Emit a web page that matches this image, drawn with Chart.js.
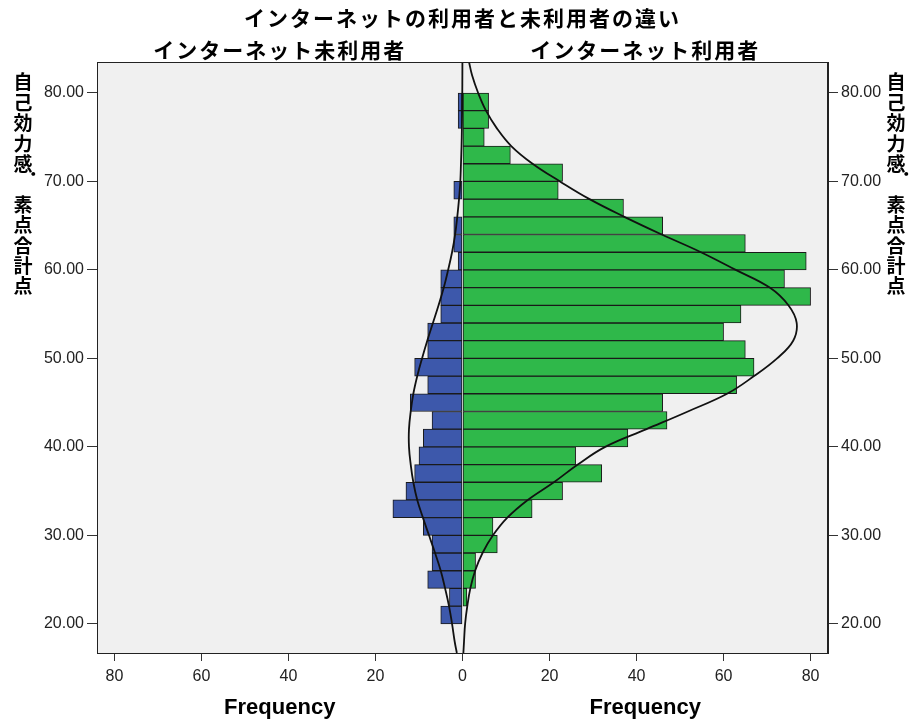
<!DOCTYPE html>
<html>
<head>
<meta charset="utf-8">
<script src="https://cdn.jsdelivr.net/npm/chart.js@4.4.1/dist/chart.umd.min.js"></script>
<style>
  html, body { margin: 0; padding: 0; background: #fff; }
</style>
</head>
<body>
<canvas id="chart" width="912" height="722"></canvas>
<script>
// score bins (2-point width), midpoints from bottom to top
const binMids = [21, 23, 25, 27, 29, 31, 33, 35, 37, 39, 41, 43, 45, 47, 49,
                 51, 53, 55, 57, 59, 61, 63, 65, 67, 69, 71, 73, 75, 77, 79];
// インターネット未利用者 (left side)
const nonUsers = [5, 3, 8, 7, 7, 9, 16, 13, 11, 10, 9, 7, 12, 8, 11,
                  8, 8, 5, 5, 5, 1, 2, 2, 0, 2, 0, 0, 0, 1, 1];
// インターネット利用者 (right side)
const users = [0, 1, 3, 3, 8, 7, 16, 23, 32, 26, 38, 47, 46, 63, 67,
               65, 60, 64, 80, 74, 79, 65, 46, 37, 22, 23, 11, 5, 6, 6];

// normal curves
const curveScores = [16.7, 18, 20, 22, 24, 26, 28, 30, 32, 34, 36, 38, 40, 42, 44, 46, 48,
                     50, 52, 54, 56, 58, 60, 62, 64, 66, 68, 70, 72, 74, 76, 78, 80, 82, 83.5];
const usersCurve = [0.2, 0.35, 0.6, 1.1, 1.8, 2.9, 4.6, 7.0, 10.3, 15.0, 21.0, 26.5, 32.8, 42.3, 51.8, 60.8, 67.0,
                    72.3, 76.0, 76.8, 74.9, 70.6, 62.8, 54.8, 45.8, 37.2, 29.2, 22.4, 16.1, 11.2, 7.9, 5.4, 3.6, 2.2, 1.5];
const nonUsersCurve = [1.3, 1.8, 2.4, 3.1, 4.0, 5.0, 6.3, 7.7, 9.1, 10.4, 11.3, 11.9, 12.3, 12.3, 11.9, 11.3, 10.4,
                       9.3, 8.1, 6.8, 5.5, 4.3, 3.3, 2.4, 1.7, 1.2, 0.8, 0.5, 0.35, 0.22, 0.14, 0.09, 0.05, 0.03, 0.02];

const scoreTicks = [20, 30, 40, 50, 60, 70, 80];
const freqTicks = [-80, -60, -40, -20, 0, 20, 40, 60, 80];

const chartTitle = 'インターネットの利用者と未利用者の違い';
const leftTitle = 'インターネット未利用者';
const rightTitle = 'インターネット利用者';
const yTitle = '自己効力感．素点合計点';
const xTitle = 'Frequency';

const jpFont = '"Noto Sans CJK JP", "Noto Sans", sans-serif';
const numFont = '"Liberation Sans", Arial, sans-serif';

function drawVertical(ctx, text, cx, top, pitch) {
    let i = 0;
    for (const ch of text) {
        const cellTop = top + i * pitch;
        if (ch === '．') {
            ctx.textAlign = 'left';
            ctx.textBaseline = 'alphabetic';
            ctx.fillText(ch, cx + 5, cellTop + 2);
        } else {
            ctx.textAlign = 'center';
            ctx.textBaseline = 'middle';
            ctx.fillText(ch, cx, cellTop + pitch / 2);
        }
        i++;
    }
}

const panelPlugin = {
    id: 'panels',
    beforeDraw(chart) {
        const { ctx, chartArea: a } = chart;
        ctx.save();
        ctx.fillStyle = '#ffffff';
        ctx.fillRect(0, 0, chart.width, chart.height);
        ctx.fillStyle = '#f0f0f0';
        ctx.fillRect(a.left, a.top, a.right - a.left, a.bottom - a.top);
        ctx.restore();
    },
    afterDraw(chart) {
        const { ctx, chartArea: a } = chart;
        const xs = chart.scales.x;
        ctx.save();
        ctx.strokeStyle = '#222';
        ctx.lineWidth = 1;
        ctx.strokeRect(a.left + 0.5, a.top + 0.5, a.right - a.left - 1, a.bottom - a.top);

        ctx.fillStyle = '#000';
        ctx.textAlign = 'center';
        ctx.textBaseline = 'middle';
        ctx.font = 'bold 21px ' + jpFont;
        ctx.letterSpacing = '2px';
        ctx.fillText(chartTitle, xs.getPixelForValue(0), a.top - 44);
        ctx.fillText(leftTitle, xs.getPixelForValue(-42), a.top - 12);
        ctx.fillText(rightTitle, xs.getPixelForValue(42), a.top - 12);
        ctx.letterSpacing = '0px';

        ctx.font = 'bold 22px ' + numFont;
        ctx.fillText(xTitle, xs.getPixelForValue(-42), a.bottom + 55);
        ctx.fillText(xTitle, xs.getPixelForValue(42), a.bottom + 55);

        ctx.font = 'bold 19px ' + jpFont;
        drawVertical(ctx, yTitle, a.left - 74, a.top + 10, 20.4);
        drawVertical(ctx, yTitle, a.right + 68, a.top + 10, 20.4);
        ctx.restore();
    }
};

const yScale = (position, width) => ({
    type: 'linear',
    position: position,
    min: 16.7,
    max: 83.5,
    offset: false,
    afterBuildTicks: s => { s.ticks = scoreTicks.map(v => ({ value: v })); },
    afterFit: s => { s.width = width; },
    grid: { display: true, offset: false, drawOnChartArea: false, drawTicks: true, tickLength: 10, color: '#333' },
    border: { display: true, color: '#222' },
    ticks: {
        padding: 3,
        color: '#222',
        font: { family: numFont, size: 16 },
        callback: v => Number(v).toFixed(2)
    }
});

new Chart(document.getElementById('chart'), {
    type: 'bar',
    data: {
        datasets: [
            {
                type: 'line',
                indexAxis: 'y',
                data: curveScores.map((s, i) => ({ x: -nonUsersCurve[i], y: s })),
                borderColor: '#111',
                borderWidth: 1.8,
                pointRadius: 0,
                tension: 0.4,
                fill: false,
                order: 0
            },
            {
                type: 'line',
                indexAxis: 'y',
                data: curveScores.map((s, i) => ({ x: usersCurve[i], y: s })),
                borderColor: '#111',
                borderWidth: 1.8,
                pointRadius: 0,
                tension: 0.4,
                fill: false,
                order: 0
            },
            {
                type: 'bar',
                indexAxis: 'y',
                data: binMids.map((m, i) => ({ x: nonUsers[i] ? -nonUsers[i] : null, y: m })),
                backgroundColor: '#3d58ab',
                borderColor: '#1a1a1a',
                borderWidth: 1,
                borderSkipped: false,
                categoryPercentage: 1,
                barPercentage: 1,
                order: 1
            },
            {
                type: 'bar',
                indexAxis: 'y',
                data: binMids.map((m, i) => ({ x: users[i] ? users[i] : null, y: m })),
                backgroundColor: '#2fb84a',
                borderColor: '#1a1a1a',
                borderWidth: 1,
                borderSkipped: false,
                categoryPercentage: 1,
                barPercentage: 1,
                order: 1
            }
        ]
    },
    options: {
        indexAxis: 'y',
        responsive: false,
        animation: false,
        devicePixelRatio: 1,
        layout: { padding: { top: 62, left: 0, right: 0, bottom: 0 } },
        plugins: {
            legend: { display: false },
            tooltip: { enabled: false },
            title: { display: false }
        },
        scales: {
            x: {
                type: 'linear',
                min: -84,
                max: 84,
                offset: false,
                afterBuildTicks: s => { s.ticks = freqTicks.map(v => ({ value: v })); },
                afterFit: s => { s.height = 69; },
                grid: { display: true, offset: false, drawOnChartArea: false, drawTicks: true, tickLength: 8, color: '#333' },
                border: { display: true, color: '#222' },
                ticks: {
                    padding: 6,
                    color: '#222',
                    font: { family: '"Liberation Sans Narrow", ' + numFont, size: 16 },
                    callback: v => String(Math.abs(v))
                }
            },
            y: Object.assign(yScale('left', 97), { stacked: true }),
            y2: yScale('right', 84)
        }
    },
    plugins: [panelPlugin]
});
</script>
</body>
</html>
